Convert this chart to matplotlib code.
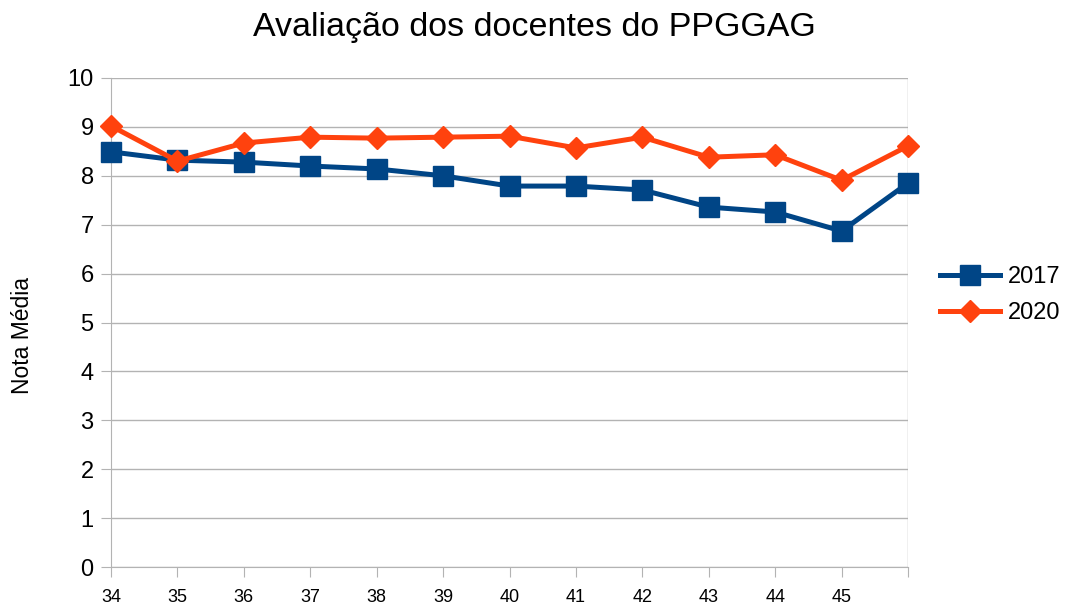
import matplotlib
matplotlib.use("Agg")
import matplotlib.pyplot as plt

categories = ["34", "35", "36", "37", "38", "39", "40", "41", "42", "43", "44", "45", ""]
series_2017 = [8.49, 8.32, 8.28, 8.20, 8.14, 8.00, 7.79, 7.79, 7.71, 7.36, 7.26, 6.87, 7.85]
series_2020 = [9.02, 8.30, 8.67, 8.79, 8.77, 8.79, 8.81, 8.57, 8.79, 8.38, 8.43, 7.91, 8.61]
yticks = [0, 1, 2, 3, 4, 5, 6, 7, 8, 9, 10]

plt.rcParams['font.family'] = ['Liberation Sans', 'DejaVu Sans']

fig = plt.figure(figsize=(10.69, 6.09), dpi=100)
ax = fig.add_axes([111/1069, 1-567/609, (908-111)/1069, (567-78)/609])

x = list(range(len(categories)))
ax.plot(x, series_2017, color='#004586', lw=3.6, marker='s', markersize=15, label='2017',
        zorder=3, clip_on=False)
ax.plot(x, series_2020, color='#ff420e', lw=3.6, marker='D', markersize=11, label='2020',
        zorder=4, clip_on=False)

ax.set_xlim(0, len(categories) - 1)
ax.set_ylim(0, 10)
ax.set_yticks(yticks)
ax.set_yticklabels([str(v) for v in yticks], fontsize=17)
ax.set_xticks(x)
ax.set_xticklabels(categories, fontsize=13)
ax.grid(axis='y', color='#b3b3b3', lw=1)
ax.set_axisbelow(True)
for s in ['top', 'right']:
    ax.spines[s].set_visible(False)
for s in ['left', 'bottom']:
    ax.spines[s].set_color('#b3b3b3')
ax.tick_params(axis='both', color='#b3b3b3', length=7.5)
ax.tick_params(axis='x', pad=8)
ax.tick_params(axis='y', pad=5)
ax.axvline(len(categories) - 1, color='#b3b3b3', lw=1, zorder=0)

fig.text(23/1069, 1-336/609, 'Nota Média', fontsize=16.5, rotation=90, ha='center', va='center')
fig.suptitle('Avaliação dos docentes do PPGGAG', fontsize=24.5, y=0.98)

leg = fig.legend(loc='center left', bbox_to_anchor=(940/1069, 1-295/609), frameon=False,
                 fontsize=17, handlelength=2.54, handletextpad=0.34, labelspacing=0.6,
                 borderpad=0, borderaxespad=0)

fig.savefig('out.png', dpi=100)
